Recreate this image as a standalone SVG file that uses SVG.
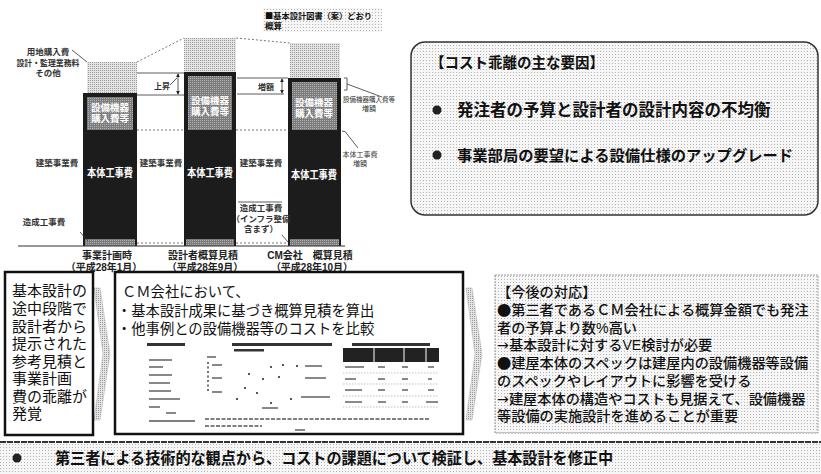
<svg xmlns="http://www.w3.org/2000/svg" width="821" height="474" viewBox="0 0 821 474">
<defs>
<pattern id="dots" width="3" height="3" patternUnits="userSpaceOnUse"><rect width="3" height="3" fill="#f6f6f6"/><rect width="1" height="1" fill="#b5b5b5"/></pattern>
<pattern id="dotsmid" width="2" height="2" patternUnits="userSpaceOnUse"><rect width="2" height="2" fill="#e4e4e4"/><rect width="1" height="1" fill="#9a9a9a"/></pattern>
<pattern id="graybar" width="2" height="2" patternUnits="userSpaceOnUse"><rect width="2" height="2" fill="#7c7c7c"/><rect width="1" height="1" fill="#b0b0b0"/></pattern>
<marker id="ah" viewBox="0 0 6 6" refX="5" refY="3" markerWidth="5" markerHeight="5" orient="auto-start-reverse"><path d="M0,0 L6,3 L0,6 z" fill="#222"/></marker>
</defs>
<style>
text{font-family:"Liberation Sans","Noto Sans CJK JP",sans-serif;fill:#111}
.cj{font-family:"Noto Sans CJK JP",sans-serif}
.dv{font-family:"DejaVu Sans",sans-serif}
.sm{font-size:8.5px;font-weight:bold;fill:#333;text-anchor:middle}
.tiny{font-size:7px;fill:#333;text-anchor:middle}
.wt{font-weight:bold;fill:#fff;text-anchor:middle}
.xl{font-size:10px;font-weight:bold;text-anchor:middle;fill:#222}
.dotl{stroke:#777;stroke-width:1;stroke-dasharray:2 2;fill:none}
.thin{stroke:#333;stroke-width:0.8;fill:none}
.box{fill:#fff;stroke:#111;stroke-width:2.5}
.mini{stroke:#555;stroke-width:1.4}
.lb{font-size:15px}
.rb{font-size:14.2px;font-weight:500}
</style>

<g id="chart">
  <g id="note-top">
    <rect x="263" y="8" width="119" height="24" fill="url(#dots)"/>
    <text style="font-size:8.5px;font-weight:bold"><tspan x="265" y="19" textLength="107" lengthAdjust="spacingAndGlyphs"><tspan class="cj">■</tspan>基本設計図書（案）どおり</tspan><tspan x="265" y="29">概算</tspan></text>
  </g>
  <g id="extra-areas">
    <rect x="87" y="62" width="50" height="31" fill="url(#dotsmid)"/>
    <rect x="184" y="38" width="52" height="34" fill="url(#dotsmid)"/>
    <rect x="290" y="43" width="50" height="35" fill="url(#dotsmid)"/>
    <polyline points="137,62 184,38" class="dotl"/>
    <polyline points="236,38 290,43" class="dotl"/>
  </g>
  <g id="bar1">
    <rect x="83" y="93" width="54" height="153" fill="#1c1c1c"/>
    <rect x="87" y="97" width="46" height="33" fill="url(#graybar)"/>
    <rect x="85" y="239" width="50" height="7" fill="url(#graybar)"/>
    <text class="wt" style="font-size:9.5px"><tspan x="110" y="110.5">設備機器</tspan><tspan x="110" y="122">購入費等</tspan></text>
    <text class="wt" x="110" y="177" style="font-size:11px" textLength="46" lengthAdjust="spacingAndGlyphs">本体工事費</text>
  </g>
  <g id="bar2">
    <rect x="184" y="72" width="52" height="174" fill="#1c1c1c"/>
    <rect x="188" y="76" width="44" height="54" fill="url(#graybar)"/>
    <rect x="186" y="239" width="48" height="7" fill="url(#graybar)"/>
    <text class="wt" style="font-size:9.5px"><tspan x="210" y="103.5">設備機器</tspan><tspan x="210" y="115">購入費等</tspan></text>
    <text class="wt" x="210" y="177" style="font-size:11px" textLength="46" lengthAdjust="spacingAndGlyphs">本体工事費</text>
  </g>
  <g id="bar3">
    <rect x="288" y="78" width="53" height="168" fill="#1c1c1c"/>
    <rect x="292" y="82" width="45" height="48" fill="url(#graybar)"/>
    <rect x="290" y="239" width="49" height="7" fill="url(#graybar)"/>
    <text class="wt" style="font-size:9.5px"><tspan x="314" y="105.5">設備機器</tspan><tspan x="314" y="117">購入費等</tspan></text>
    <text class="wt" x="314" y="179" style="font-size:11px" textLength="46" lengthAdjust="spacingAndGlyphs">本体工事費</text>
  </g>
  <g id="labels">
    <text class="sm"><tspan x="48" y="55">用地購入費</tspan><tspan x="48" y="65.5" textLength="63" lengthAdjust="spacingAndGlyphs">設計・監理業務料</tspan><tspan x="48" y="76">その他</tspan></text>
    <text class="sm" x="57" y="166">建築事業費</text>
    <text class="sm" x="161" y="166">建築事業費</text>
    <text class="sm" x="261" y="166">建築事業費</text>
    <text class="sm" x="44" y="225">造成工事費</text>
    <text class="sm"><tspan x="261" y="211">造成工事費</tspan><tspan x="261" y="221.5">（インフラ整備</tspan><tspan x="261" y="232">含まず）</tspan></text>
    <text class="sm" x="162" y="89" style="font-size:8px">上昇</text>
    <text class="sm" x="266" y="90" style="font-size:8px">増額</text>
    <text class="tiny"><tspan x="369" y="102" textLength="52" lengthAdjust="spacingAndGlyphs">設備機器購入費等</tspan><tspan x="369" y="111">増額</tspan></text>
    <text class="tiny"><tspan x="360" y="157">本体工事費</tspan><tspan x="360" y="166">増額</tspan></text>
    <text class="xl"><tspan x="107" y="259">事業計画時</tspan><tspan x="104" y="271">（平成28年1月）</tspan></text>
    <text class="xl"><tspan x="203" y="259">設計者概算見積</tspan><tspan x="205" y="271">（平成28年9月）</tspan></text>
    <text class="xl"><tspan x="310" y="259">CM会社　概算見積</tspan><tspan x="312" y="271">（平成28年10月）</tspan></text>
  </g>
</g>

<g id="connectors">
  <line x1="18" y1="246" x2="345" y2="246" stroke="#333" stroke-width="1.2"/>
  <line x1="72" y1="50" x2="87" y2="62" class="thin"/>
  <line x1="137" y1="73" x2="184" y2="73" class="thin"/>
  <line x1="137" y1="95" x2="184" y2="95" class="thin"/>
  <line x1="178" y1="74" x2="178" y2="94" class="thin" marker-start="url(#ah)" marker-end="url(#ah)"/>
  <line x1="170" y1="85" x2="177" y2="78" class="thin"/>
  <line x1="237" y1="78" x2="288" y2="78" class="thin"/>
  <line x1="237" y1="94" x2="284" y2="94" class="thin"/>
  <line x1="282" y1="79" x2="282" y2="93" class="thin" marker-start="url(#ah)" marker-end="url(#ah)"/>
  <path d="M344,78 h3 v12 h-3" class="thin"/>
  <line x1="347" y1="84" x2="382" y2="97" class="thin"/>
  <path d="M342,131 q4,0 5,3 L358,148" class="thin"/>
  <line x1="137" y1="130" x2="184" y2="130" class="dotl"/>
  <line x1="236" y1="130" x2="288" y2="130" class="dotl"/>
  <line x1="137" y1="243" x2="184" y2="243" class="dotl"/>
  <line x1="236" y1="243" x2="288" y2="243" class="dotl"/>
  <line x1="238" y1="202" x2="282" y2="202" class="thin"/>
  <line x1="80" y1="232" x2="88" y2="241" class="thin"/>
  <line x1="282" y1="235" x2="288" y2="242" class="thin"/>
  <polygon points="94,288 100,288 110,354 100,420 94,420 103,354" fill="url(#dotsmid)" stroke="#bbb" stroke-width="0.6"/>
  <polygon points="466,288 472,288 482,354 472,420 466,420 475,354" fill="url(#dotsmid)" stroke="#bbb" stroke-width="0.6"/>
</g>

<g id="factors">
  <rect x="411" y="42" width="407" height="173" rx="14" fill="url(#dots)" stroke="#333" stroke-width="1.5"/>
  <text x="430" y="68" style="font-size:14.5px;font-weight:bold">【コスト乖離の主な要因】</text>
  <circle cx="437" cy="110" r="4.5" fill="#222"/>
  <text x="457" y="116" style="font-size:16.5px;font-weight:bold">発注者の予算と設計者の設計内容の不均衡</text>
  <circle cx="437" cy="155" r="4.5" fill="#222"/>
  <text x="457" y="161" style="font-size:15.3px;font-weight:bold">事業部局の要望による設備仕様のアップグレード</text>
</g>

<g id="discovery">
  <rect class="box" x="5" y="272" width="88" height="163"/>
  <text class="lb"><tspan x="12" y="296">基本設計の</tspan><tspan x="12" y="314">途中段階で</tspan><tspan x="12" y="331.5">設計者から</tspan><tspan x="12" y="349">提示された</tspan><tspan x="12" y="366.5">参考見積と</tspan><tspan x="12" y="384">事業計画</tspan><tspan x="12" y="401.5">費の乖離が</tspan><tspan x="12" y="419">発覚</tspan></text>
</g>

<g id="cm-box">
  <rect class="box" x="115" y="272" width="348" height="162"/>
  <text style="font-size:14.3px"><tspan x="122" y="297">ＣＭ会社において、</tspan><tspan x="117" y="316">・基本設計成果に基づき概算見積を算出</tspan><tspan x="117" y="334">・他事例との設備機器等のコストを比較</tspan></text>
  <g id="mini-panels">
    <rect x="147" y="343" width="38" height="3" fill="#333"/>
    <line class="mini" x1="149" y1="360" x2="172" y2="360"/>
    <line class="mini" x1="149" y1="367" x2="163" y2="367"/>
    <line class="mini" x1="149" y1="375" x2="172" y2="375"/>
    <line class="mini" x1="149" y1="383" x2="170" y2="383"/>
    <line class="mini" x1="149" y1="391" x2="171" y2="391"/>
    <line class="mini" x1="149" y1="399" x2="180" y2="399"/>
    <line class="mini" x1="149" y1="407" x2="160" y2="407"/>
    <line class="mini" x1="166" y1="413" x2="176" y2="413" stroke-width="0.8"/>
    <line class="mini" x1="149" y1="421" x2="195" y2="421"/>
    <rect x="232" y="343" width="100" height="3" fill="#333"/>
    <rect x="234" y="349" width="30" height="2.5" fill="#333"/>
    <line class="mini" x1="207" y1="357" x2="216" y2="357" stroke-width="0.8"/>
    <line x1="208" y1="362" x2="208" y2="393" stroke="#444" stroke-width="1.5" stroke-dasharray="2 2.5"/>
    <line class="mini" x1="212" y1="365" x2="222" y2="365" stroke-width="0.8"/>
    <line class="mini" x1="212" y1="378" x2="222" y2="378" stroke-width="0.8"/>
    <line class="mini" x1="212" y1="392" x2="222" y2="392" stroke-width="0.8"/>
    <g fill="#555">
      <rect x="270" y="366" width="2" height="2"/><rect x="282" y="364" width="2" height="2"/><rect x="296" y="365" width="2" height="2"/>
      <rect x="248" y="373" width="2" height="2"/><rect x="262" y="378" width="2" height="2"/><rect x="278" y="376" width="2" height="2"/>
      <rect x="244" y="387" width="2" height="2"/><rect x="256" y="392" width="2" height="2"/><rect x="290" y="398" width="2" height="2"/>
      <rect x="236" y="398" width="2" height="2"/><rect x="270" y="402" width="2" height="2"/>
    </g>
    <line class="mini" x1="305" y1="366" x2="322" y2="366" stroke-width="1"/>
    <line class="mini" x1="305" y1="378" x2="326" y2="378" stroke-width="1"/>
    <line class="mini" x1="301" y1="397" x2="330" y2="397" stroke-width="1"/>
    <line class="mini" x1="262" y1="408" x2="278" y2="408" stroke-width="0.8"/>
    <rect x="352" y="343" width="78" height="3" fill="#333"/>
    <rect x="343" y="348" width="96" height="14" fill="#222"/>
    <g stroke="#fff" stroke-width="1"><line x1="374" y1="348" x2="374" y2="362"/><line x1="404" y1="348" x2="404" y2="362"/><line x1="426" y1="348" x2="426" y2="362"/></g>
    <g class="mini" stroke-width="1">
      <line x1="345" y1="367" x2="364" y2="367"/><line x1="378" y1="367" x2="385" y2="367"/><line x1="402" y1="367" x2="408" y2="367"/><line x1="428" y1="367" x2="434" y2="367"/>
      <line x1="345" y1="379" x2="356" y2="379"/><line x1="378" y1="379" x2="385" y2="379"/><line x1="402" y1="379" x2="408" y2="379"/><line x1="428" y1="379" x2="432" y2="379"/>
      <line x1="345" y1="390" x2="362" y2="390"/><line x1="378" y1="390" x2="385" y2="390"/><line x1="402" y1="390" x2="408" y2="390"/><line x1="428" y1="390" x2="434" y2="390"/>
      <line x1="345" y1="402" x2="362" y2="402"/><line x1="378" y1="402" x2="386" y2="402"/><line x1="402" y1="402" x2="408" y2="402"/><line x1="426" y1="402" x2="438" y2="402"/>
    </g>
    <g stroke="#999" stroke-width="0.6" stroke-dasharray="1.5 1.5"><line x1="343" y1="373" x2="439" y2="373"/><line x1="343" y1="384" x2="439" y2="384"/><line x1="343" y1="396" x2="439" y2="396"/><line x1="343" y1="407" x2="439" y2="407"/></g>
    <line class="mini" x1="205" y1="419" x2="430" y2="419" stroke-width="1.1" stroke-dasharray="4 1.5"/>
    <line class="mini" x1="205" y1="426" x2="262" y2="426" stroke-width="1.1" stroke-dasharray="4 1.5"/>
    <line class="mini" x1="295" y1="430" x2="305" y2="430" stroke-width="1.5"/>
  </g>
</g>

<g id="response">
  <rect x="495" y="275" width="323" height="158" fill="url(#dots)" stroke="#999" stroke-width="1" stroke-dasharray="2 1"/>
  <text class="rb"><tspan x="497" y="297">【今後の対応】</tspan><tspan x="497" y="315"><tspan class="cj">●</tspan>第三者であるＣＭ会社による概算金額でも発注</tspan><tspan x="497" y="332.5">者の予算より数%高い</tspan><tspan x="497" y="350"><tspan class="dv">→</tspan>基本設計に対するVE検討が必要</tspan><tspan x="497" y="368"><tspan class="cj">●</tspan>建屋本体のスペックは建屋内の設備機器等設備</tspan><tspan x="497" y="386">のスペックやレイアウトに影響を受ける</tspan><tspan x="497" y="403.5"><tspan class="dv">→</tspan>建屋本体の構造やコストも見据えて、設備機器</tspan><tspan x="497" y="421">等設備の実施設計を進めることが重要</tspan></text>
</g>

<g id="conclusion">
  <rect x="0" y="441" width="821" height="33" fill="url(#dots)"/>
  <line x1="0" y1="442" x2="821" y2="442" stroke="#333" stroke-width="2" stroke-dasharray="6 1"/>
  <circle cx="17" cy="458" r="4.5" fill="#222"/>
  <text x="55" y="464" style="font-size:16px;font-weight:bold" textLength="558" lengthAdjust="spacingAndGlyphs">第三者による技術的な観点から、コストの課題について検証し、基本設計を修正中</text>
</g>
</svg>
